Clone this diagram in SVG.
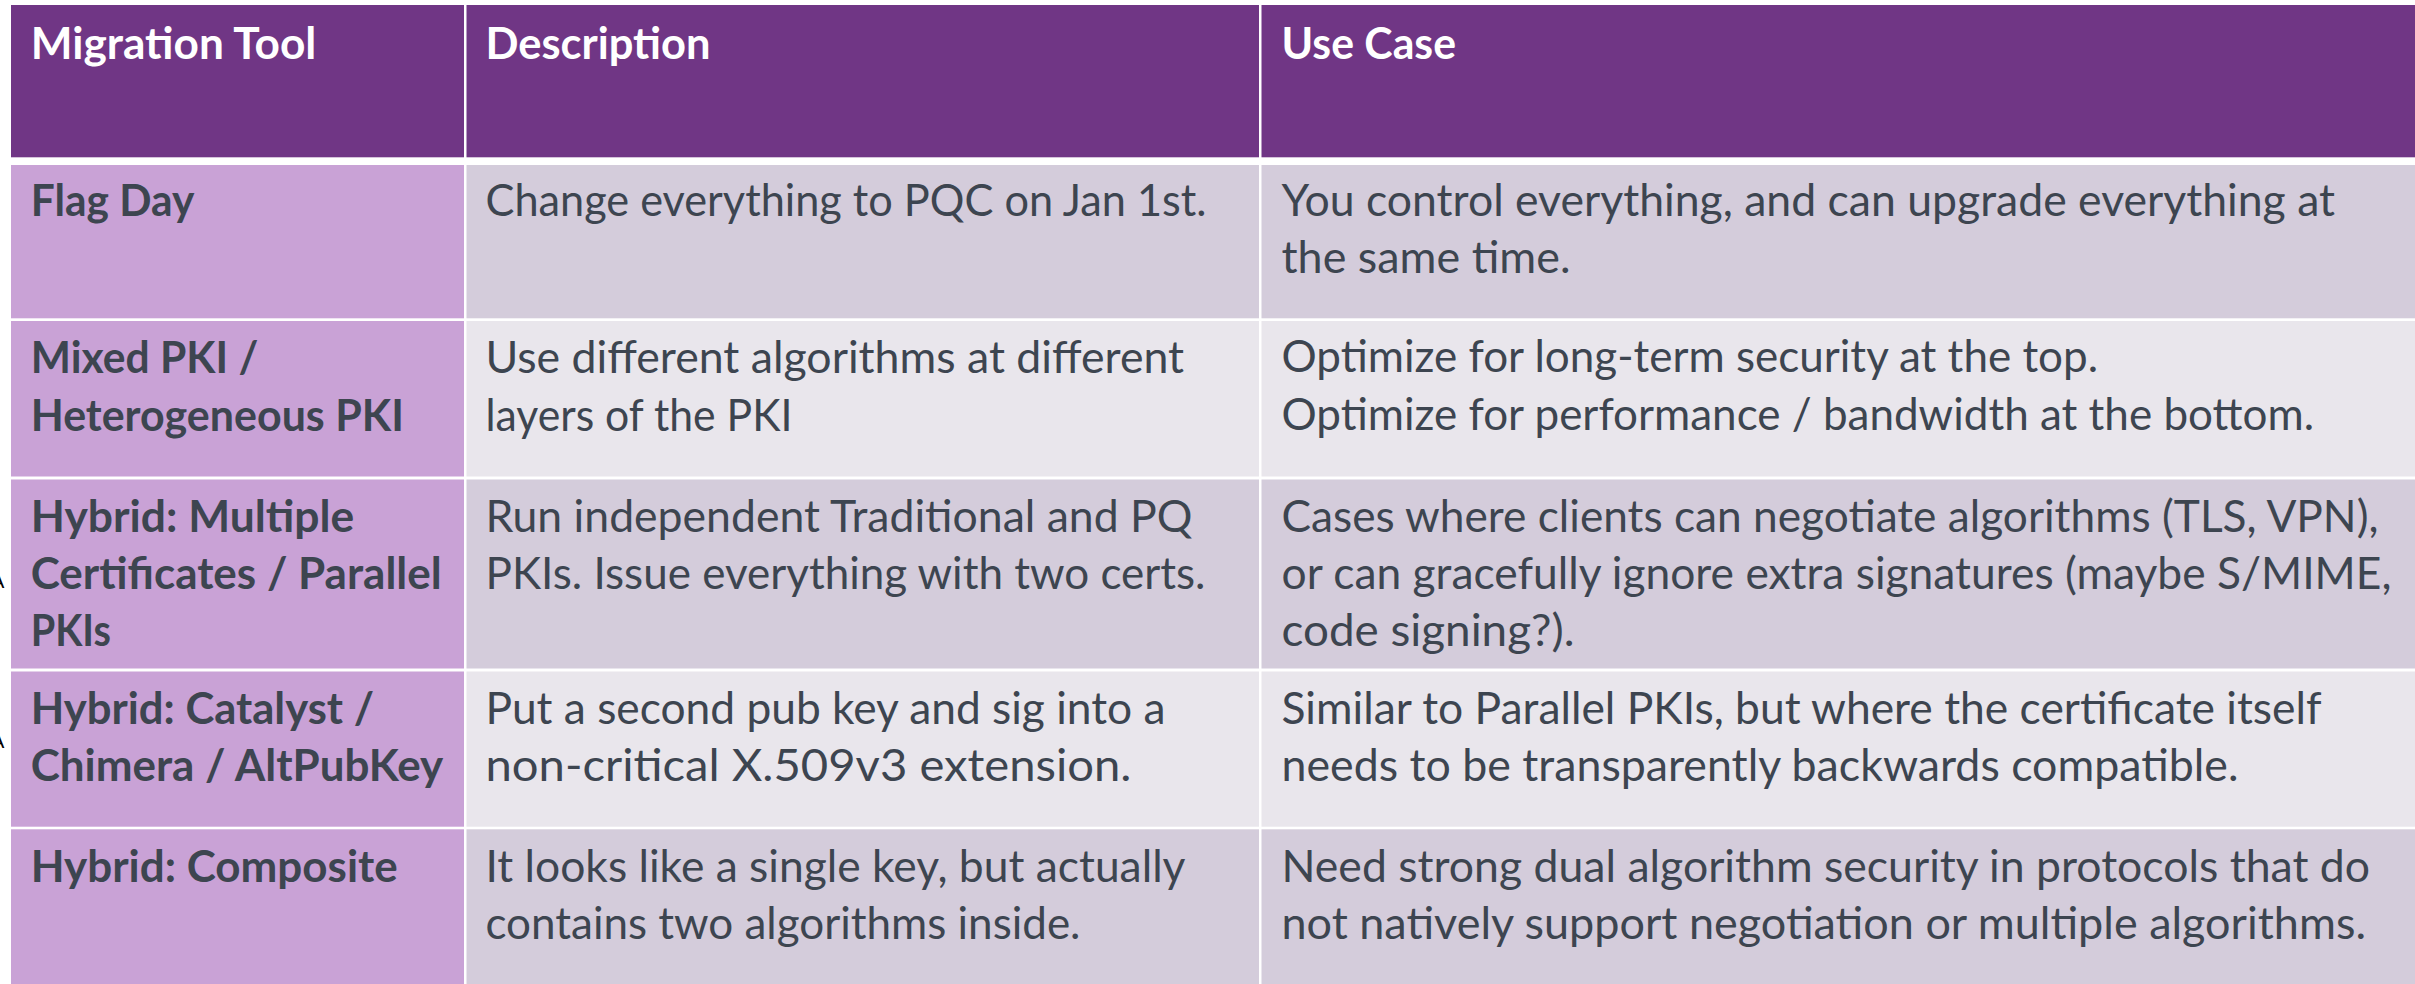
<svg xmlns="http://www.w3.org/2000/svg" width="2415" height="984" viewBox="0 0 2415 984">
  <style>
    .hd { fill: #703685; }
    .c1 { fill: #C9A2D6; }
    .rd { fill: #D4CCDB; }
    .rl { fill: #E9E6EC; }
    text { font-family: Lato, "Open Sans", "Liberation Sans", sans-serif; font-size: 44px; }
    .h { fill: #FFFFFF; font-weight: 700; }
    .b { fill: #3D4550; font-weight: 700; }
    .t { fill: #3D4550; }
    .edge { fill: #000000; font-family: "Liberation Sans", sans-serif; font-size: 20px; }
  </style>

  <rect width="2415" height="984" fill="#FFFFFF"/>

  <!-- cut-off marks at the far left edge -->
  <g id="edge-marks">
    <text class="edge" x="-9" y="588">A</text>
    <text class="edge" x="-9" y="748">A</text>
  </g>

  <!-- header row -->
  <g id="header">
    <rect class="hd" x="11" y="5" width="453" height="152.3"/>
    <rect class="hd" x="466.5" y="5" width="792.5" height="152.3"/>
    <rect class="hd" x="1261.5" y="5" width="1153.5" height="152.3"/>
    <text class="h" x="30.7" y="59" textLength="285.6" lengthAdjust="spacingAndGlyphs">Migration Tool</text>
    <text class="h" x="485.5" y="59" textLength="225" lengthAdjust="spacingAndGlyphs">Description</text>
    <text class="h" x="1281.5" y="59" textLength="174.5" lengthAdjust="spacingAndGlyphs">Use Case</text>
  </g>

  <!-- row 1: Flag Day -->
  <g id="row-flag-day">
    <rect class="c1" x="11" y="165" width="453" height="153.3"/>
    <rect class="rd" x="466.5" y="165" width="792.5" height="153.3"/>
    <rect class="rd" x="1261.5" y="165" width="1153.5" height="153.3"/>
    <text class="b" x="30.7" y="216" textLength="163.6" lengthAdjust="spacingAndGlyphs">Flag Day</text>
    <text class="t" x="485.5" y="216" textLength="721" lengthAdjust="spacingAndGlyphs">Change everything to PQC on Jan 1st.</text>
    <text class="t" x="1281.5" y="216" textLength="1053.5" lengthAdjust="spacingAndGlyphs">You control everything, and can upgrade everything at</text>
    <text class="t" x="1281.5" y="273" textLength="289" lengthAdjust="spacingAndGlyphs">the same time.</text>
  </g>

  <!-- row 2: Mixed PKI -->
  <g id="row-mixed-pki">
    <rect class="c1" x="11" y="321" width="453" height="155.5"/>
    <rect class="rl" x="466.5" y="321" width="792.5" height="155.5"/>
    <rect class="rl" x="1261.5" y="321" width="1153.5" height="155.5"/>
    <text class="b" x="30.7" y="373" textLength="227.6" lengthAdjust="spacingAndGlyphs">Mixed PKI /</text>
    <text class="b" x="30.7" y="430.5" textLength="373.3" lengthAdjust="spacingAndGlyphs">Heterogeneous PKI</text>
    <text class="t" x="485.5" y="373" textLength="698.6" lengthAdjust="spacingAndGlyphs">Use different algorithms at different</text>
    <text class="t" x="485.5" y="430.5" textLength="307" lengthAdjust="spacingAndGlyphs">layers of the PKI</text>
    <text class="t" x="1281.5" y="372">Optimize for long-term security at the top.</text>
    <text class="t" x="1281.5" y="430">Optimize for performance / bandwidth at the bottom.</text>
  </g>

  <!-- row 3: Parallel PKIs -->
  <g id="row-parallel-pkis">
    <rect class="c1" x="11" y="479.5" width="453" height="189"/>
    <rect class="rd" x="466.5" y="479.5" width="792.5" height="189"/>
    <rect class="rd" x="1261.5" y="479.5" width="1153.5" height="189"/>
    <text class="b" x="30.7" y="532" textLength="323.6" lengthAdjust="spacingAndGlyphs">Hybrid: Multiple</text>
    <text class="b" x="30.7" y="589" textLength="411" lengthAdjust="spacingAndGlyphs">Certificates / Parallel</text>
    <text class="b" x="30.7" y="646" textLength="80.3" lengthAdjust="spacingAndGlyphs">PKIs</text>
    <text class="t" x="485.5" y="532" textLength="707" lengthAdjust="spacingAndGlyphs">Run independent Traditional and PQ</text>
    <text class="t" x="485.5" y="589" textLength="720" lengthAdjust="spacingAndGlyphs">PKIs. Issue everything with two certs.</text>
    <text class="t" x="1281.5" y="532" textLength="1097" lengthAdjust="spacingAndGlyphs">Cases where clients can negotiate algorithms (TLS, VPN),</text>
    <text class="t" x="1281.5" y="589" textLength="1110" lengthAdjust="spacingAndGlyphs">or can gracefully ignore extra signatures (maybe S/MIME,</text>
    <text class="t" x="1281.5" y="646" textLength="293" lengthAdjust="spacingAndGlyphs">code signing?).</text>
  </g>

  <!-- row 4: Catalyst / Chimera -->
  <g id="row-catalyst">
    <rect class="c1" x="11" y="671.5" width="453" height="155.2"/>
    <rect class="rl" x="466.5" y="671.5" width="792.5" height="155.2"/>
    <rect class="rl" x="1261.5" y="671.5" width="1153.5" height="155.2"/>
    <text class="b" x="30.7" y="724" textLength="343.3" lengthAdjust="spacingAndGlyphs">Hybrid: Catalyst /</text>
    <text class="b" x="30.7" y="781" textLength="412.6" lengthAdjust="spacingAndGlyphs">Chimera / AltPubKey</text>
    <text class="t" x="485.5" y="724" textLength="680" lengthAdjust="spacingAndGlyphs">Put a second pub key and sig into a</text>
    <text class="t" x="485.5" y="781" textLength="646" lengthAdjust="spacingAndGlyphs">non-critical X.509v3 extension.</text>
    <text class="t" x="1281.5" y="724" textLength="1040" lengthAdjust="spacingAndGlyphs">Similar to Parallel PKIs, but where the certificate itself</text>
    <text class="t" x="1281.5" y="781" textLength="957" lengthAdjust="spacingAndGlyphs">needs to be transparently backwards compatible.</text>
  </g>

  <!-- row 5: Composite -->
  <g id="row-composite">
    <rect class="c1" x="11" y="829.3" width="453" height="154.7"/>
    <rect class="rd" x="466.5" y="829.3" width="792.5" height="154.7"/>
    <rect class="rd" x="1261.5" y="829.3" width="1153.5" height="154.7"/>
    <text class="b" x="30.7" y="881.5" textLength="367" lengthAdjust="spacingAndGlyphs">Hybrid: Composite</text>
    <text class="t" x="485.5" y="881.5" textLength="700" lengthAdjust="spacingAndGlyphs">It looks like a single key, but actually</text>
    <text class="t" x="485.5" y="938.5" textLength="595" lengthAdjust="spacingAndGlyphs">contains two algorithms inside.</text>
    <text class="t" x="1281.5" y="881.5" textLength="1088.5" lengthAdjust="spacingAndGlyphs">Need strong dual algorithm security in protocols that do</text>
    <text class="t" x="1281.5" y="938.5" textLength="1084.5" lengthAdjust="spacingAndGlyphs">not natively support negotiation or multiple algorithms.</text>
  </g>
</svg>
